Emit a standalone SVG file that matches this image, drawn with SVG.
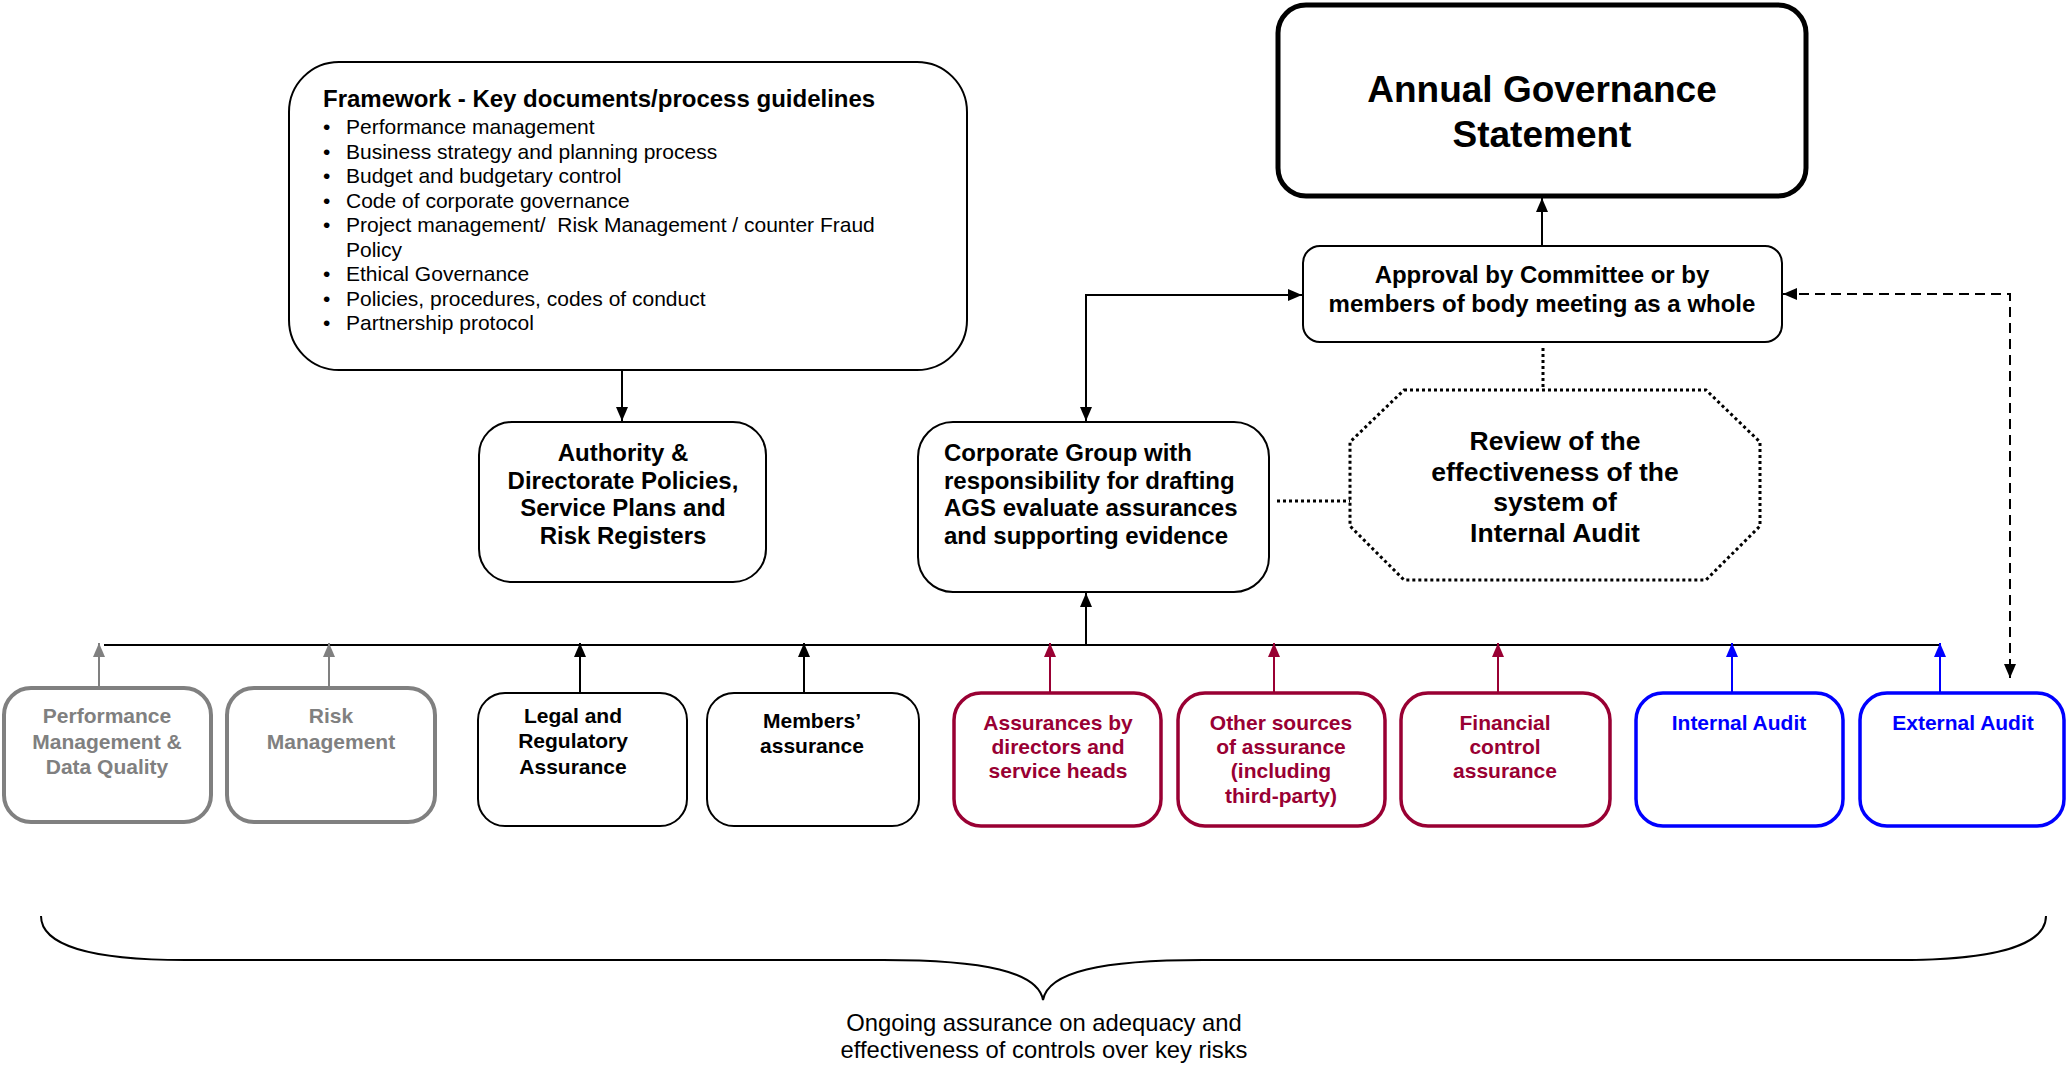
<svg xmlns="http://www.w3.org/2000/svg" width="2067" height="1065" viewBox="0 0 2067 1065">
<style>
text{font-family:'Liberation Sans',Arial,sans-serif;}
.b{font-weight:bold;}
.c{text-anchor:middle;}
.box{fill:#fff;stroke:#000;stroke-width:2;}
.gbox{fill:#fff;stroke:#808080;stroke-width:4;}
.rbox{fill:#fff;stroke:#990033;stroke-width:3.5;}
.ubox{fill:#fff;stroke:#0000ff;stroke-width:3.5;}
.ln{fill:none;stroke:#000;stroke-width:2;}
.gl{fill:none;stroke:#808080;stroke-width:2;}
.rl{fill:none;stroke:#990033;stroke-width:2;}
.ul{fill:none;stroke:#0000ff;stroke-width:2;}
.dot{fill:none;stroke:#000;stroke-width:3;stroke-dasharray:3 3;}
.dash{fill:none;stroke:#000;stroke-width:2;stroke-dasharray:10 6;}
.t21{font-size:21px;}
.t24{font-size:24px;}
.gt{fill:#808080;}
.rt{fill:#990033;}
.ut{fill:#0000ff;}
</style>
<defs>
<marker id="ak" markerUnits="userSpaceOnUse" markerWidth="14" markerHeight="12" refX="14" refY="6" orient="auto-start-reverse"><path d="M0,0 L14,6 L0,12 z" fill="#000"/></marker>
<marker id="ag" markerUnits="userSpaceOnUse" markerWidth="14" markerHeight="12" refX="14" refY="6" orient="auto"><path d="M0,0 L14,6 L0,12 z" fill="#808080"/></marker>
<marker id="ar" markerUnits="userSpaceOnUse" markerWidth="14" markerHeight="12" refX="14" refY="6" orient="auto"><path d="M0,0 L14,6 L0,12 z" fill="#990033"/></marker>
<marker id="au" markerUnits="userSpaceOnUse" markerWidth="14" markerHeight="12" refX="14" refY="6" orient="auto"><path d="M0,0 L14,6 L0,12 z" fill="#0000ff"/></marker>
</defs>

<g id="connectors">
<line class="ln" x1="622" y1="370" x2="622" y2="421" marker-end="url(#ak)"/>
<line class="ln" x1="1542" y1="245" x2="1542" y2="198" marker-end="url(#ak)"/>
<path class="ln" d="M1086,421 V295 H1302" marker-start="url(#ak)" marker-end="url(#ak)"/>
<path class="dash" d="M1783,294 H2010 V678" marker-start="url(#ak)" marker-end="url(#ak)"/>
<line class="dot" x1="1543" y1="348" x2="1543" y2="389"/>
<line class="dot" x1="1277" y1="501" x2="1350" y2="501"/>
<line class="ln" x1="104" y1="645" x2="1941" y2="645"/>
<line class="ln" x1="1086" y1="645" x2="1086" y2="593" marker-end="url(#ak)"/>
<line class="gl" x1="99" y1="688" x2="99" y2="643" marker-end="url(#ag)"/>
<line class="gl" x1="329" y1="688" x2="329" y2="643" marker-end="url(#ag)"/>
<line class="ln" x1="580" y1="693" x2="580" y2="643" marker-end="url(#ak)"/>
<line class="ln" x1="804" y1="693" x2="804" y2="643" marker-end="url(#ak)"/>
<line class="rl" x1="1050" y1="693" x2="1050" y2="643" marker-end="url(#ar)"/>
<line class="rl" x1="1274" y1="693" x2="1274" y2="643" marker-end="url(#ar)"/>
<line class="rl" x1="1498" y1="693" x2="1498" y2="643" marker-end="url(#ar)"/>
<line class="ul" x1="1732" y1="693" x2="1732" y2="643" marker-end="url(#au)"/>
<line class="ul" x1="1940" y1="693" x2="1940" y2="643" marker-end="url(#au)"/>
</g>

<g id="framework">
<rect class="box" x="289" y="62" width="678" height="308" rx="50"/>
<text class="b" x="323" y="107" font-size="24">Framework - Key documents/process guidelines</text>
<g class="t21">
<text x="323" y="134">•</text><text x="346" y="134">Performance management</text>
<text x="323" y="158.5">•</text><text x="346" y="158.5">Business strategy and planning process</text>
<text x="323" y="183">•</text><text x="346" y="183">Budget and budgetary control</text>
<text x="323" y="207.5">•</text><text x="346" y="207.5">Code of corporate governance</text>
<text x="323" y="232">•</text><text x="346" y="232" xml:space="preserve">Project management/  Risk Management / counter Fraud</text>
<text x="346" y="256.5">Policy</text>
<text x="323" y="281">•</text><text x="346" y="281">Ethical Governance</text>
<text x="323" y="305.5">•</text><text x="346" y="305.5">Policies, procedures, codes of conduct</text>
<text x="323" y="330">•</text><text x="346" y="330">Partnership protocol</text>
</g>
</g>

<g id="ags">
<rect x="1278" y="5" width="528" height="191" rx="28" fill="#fff" stroke="#000" stroke-width="5"/>
<text class="b c" x="1542" y="102" font-size="37">Annual Governance</text>
<text class="b c" x="1542" y="147" font-size="37">Statement</text>
</g>

<g id="approval">
<rect class="box" x="1303" y="246" width="479" height="96" rx="17"/>
<text class="b c t24" x="1542" y="283">Approval by Committee or by</text>
<text class="b c t24" x="1542" y="312">members of body meeting as a whole</text>
</g>

<g id="authority">
<rect class="box" x="479" y="422" width="287" height="160" rx="33"/>
<text class="b c t24" x="623" y="461">Authority &amp;</text>
<text class="b c t24" x="623" y="489">Directorate Policies,</text>
<text class="b c t24" x="623" y="516">Service Plans and</text>
<text class="b c t24" x="623" y="544">Risk Registers</text>
</g>

<g id="corporate">
<rect class="box" x="918" y="422" width="351" height="170" rx="35"/>
<text class="b t24" x="944" y="461">Corporate Group with</text>
<text class="b t24" x="944" y="489">responsibility for drafting</text>
<text class="b t24" x="944" y="516">AGS evaluate assurances</text>
<text class="b t24" x="944" y="544">and supporting evidence</text>
</g>

<g id="review">
<polygon class="dot" fill="#fff" points="1404,390 1706,390 1760,442 1760,526 1706,580 1404,580 1350,526 1350,442"/>
<text class="b c" x="1555" y="450" font-size="26.5">Review of the</text>
<text class="b c" x="1555" y="481" font-size="26.5">effectiveness of the</text>
<text class="b c" x="1555" y="511" font-size="26.5">system of</text>
<text class="b c" x="1555" y="542" font-size="26.5">Internal Audit</text>
</g>

<g id="perf">
<rect class="gbox" x="4" y="688" width="207" height="134" rx="27"/>
<text class="b c t21 gt" x="107" y="723">Performance</text>
<text class="b c t21 gt" x="107" y="749">Management &amp;</text>
<text class="b c t21 gt" x="107" y="774">Data Quality</text>
</g>

<g id="risk">
<rect class="gbox" x="227" y="688" width="208" height="134" rx="27"/>
<text class="b c t21 gt" x="331" y="723">Risk</text>
<text class="b c t21 gt" x="331" y="749">Management</text>
</g>

<g id="legal">
<rect class="box" x="478" y="693" width="209" height="133" rx="27"/>
<text class="b c t21" x="573" y="723">Legal and</text>
<text class="b c t21" x="573" y="748">Regulatory</text>
<text class="b c t21" x="573" y="774">Assurance</text>
</g>

<g id="members">
<rect class="box" x="707" y="693" width="212" height="133" rx="27"/>
<text class="b c t21" x="812" y="728">Members’</text>
<text class="b c t21" x="812" y="753">assurance</text>
</g>

<g id="directors">
<rect class="rbox" x="954" y="693" width="207" height="133" rx="27"/>
<text class="b c t21 rt" x="1058" y="730">Assurances by</text>
<text class="b c t21 rt" x="1058" y="754">directors and</text>
<text class="b c t21 rt" x="1058" y="778">service heads</text>
</g>

<g id="other">
<rect class="rbox" x="1178" y="693" width="207" height="133" rx="27"/>
<text class="b c t21 rt" x="1281" y="730">Other sources</text>
<text class="b c t21 rt" x="1281" y="754">of assurance</text>
<text class="b c t21 rt" x="1281" y="778">(including</text>
<text class="b c t21 rt" x="1281" y="803">third-party)</text>
</g>

<g id="financial">
<rect class="rbox" x="1401" y="693" width="209" height="133" rx="27"/>
<text class="b c t21 rt" x="1505" y="730">Financial</text>
<text class="b c t21 rt" x="1505" y="754">control</text>
<text class="b c t21 rt" x="1505" y="778">assurance</text>
</g>

<g id="internal">
<rect class="ubox" x="1636" y="693" width="207" height="133" rx="27"/>
<text class="b c t21 ut" x="1739" y="730">Internal Audit</text>
</g>

<g id="external">
<rect class="ubox" x="1860" y="693" width="204" height="133" rx="27"/>
<text class="b c t21 ut" x="1963" y="730">External Audit</text>
</g>

<g id="brace">
<path class="ln" d="M41,916 C41,945 90,960 185,960 L883,960 C985,960 1038,972 1043,1000 C1048,972 1101,960 1203,960 L1898,960 C1996,960 2046,945 2046,916"/>
<text class="c" x="1044" y="1031" font-size="23.8">Ongoing assurance on adequacy and</text>
<text class="c" x="1044" y="1058" font-size="23.8">effectiveness of controls over key risks</text>
</g>
</svg>
